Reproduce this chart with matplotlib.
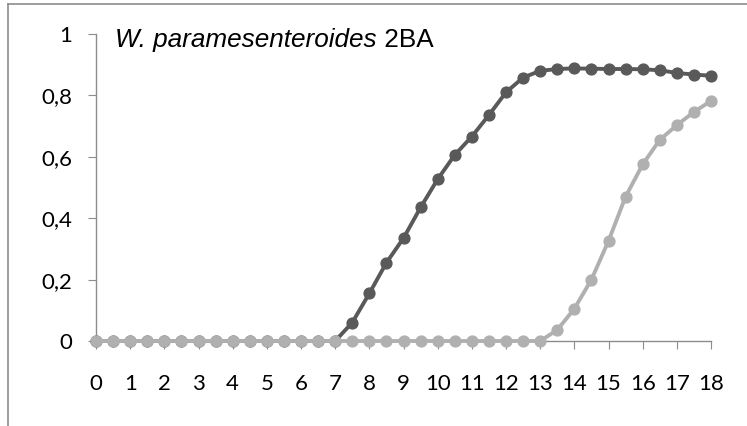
import matplotlib
matplotlib.use("Agg")
import matplotlib.pyplot as plt
from matplotlib.lines import Line2D

x_vals = [i * 0.5 for i in range(37)]
dark_series = [0, 0, 0, 0, 0, 0, 0, 0, 0, 0, 0, 0, 0, 0, 0,
               0.06, 0.155, 0.255, 0.335, 0.435, 0.527, 0.606, 0.666, 0.736,
               0.81, 0.858, 0.88, 0.886, 0.888, 0.887, 0.886, 0.886, 0.885,
               0.882, 0.873, 0.868, 0.864]
light_series = [0] * 27 + [0.036, 0.105, 0.2, 0.326, 0.47, 0.575, 0.655,
                           0.703, 0.746, 0.782]
x_ticks = list(range(19))
y_ticks = [0, 0.2, 0.4, 0.6, 0.8, 1.0]
y_tick_labels = ["0", "0,2", "0,4", "0,6", "0,8", "1"]
title_italic = "W. paramesenteroides"
title_plain = " 2BA"

fig = plt.figure(figsize=(7.47, 4.26), dpi=100)
ax = fig.add_axes([96 / 747, 1 - 341 / 426, (711 - 96) / 747, (341 - 34) / 426])

ax.plot(x_vals, dark_series, color="#595959", lw=2.8, marker="o", ms=7.8,
        clip_on=False, zorder=3)
ax.plot(x_vals, light_series, color="#b0b0b0", lw=2.8, marker="o", ms=7.8,
        clip_on=False, zorder=4)

ax.set_xlim(0, 18)
ax.set_ylim(0, 1)
ax.set_xticks(x_ticks)
ax.set_xticklabels([str(t) for t in x_ticks])
ax.set_yticks(y_ticks)
ax.set_yticklabels(y_tick_labels)
for s in ["top", "right"]:
    ax.spines[s].set_visible(False)
for s in ["left", "bottom"]:
    ax.spines[s].set_color("#8c8c8c")
    ax.spines[s].set_linewidth(1.0)
ax.tick_params(axis="x", direction="out", length=6, color="#8c8c8c",
               labelsize=16, pad=18)
ax.tick_params(axis="y", direction="out", length=6, color="#8c8c8c",
               labelsize=16, pad=11)
for lab in ax.get_xticklabels() + ax.get_yticklabels():
    lab.set_fontfamily("Lato")

t1 = fig.text(115 / 747, 1 - 47 / 426, title_italic, fontsize=18.8,
              style="italic", family="Liberation Sans", va="baseline",
              ha="left")
fig.canvas.draw()
r = t1.get_window_extent()
fig.text(r.x1 / 747, 1 - 47 / 426, title_plain, fontsize=18.8,
         family="Liberation Sans", va="baseline", ha="left")

# figure border (partially visible)
fig.add_artist(Line2D([8 / 747, 8 / 747], [0, 1 - 4 / 426],
                      transform=fig.transFigure, color="#8c8c8c", lw=1.2))
fig.add_artist(Line2D([8 / 747, 1], [1 - 4 / 426, 1 - 4 / 426],
                      transform=fig.transFigure, color="#8c8c8c", lw=1.2))

fig.savefig("out.png", dpi=100)
